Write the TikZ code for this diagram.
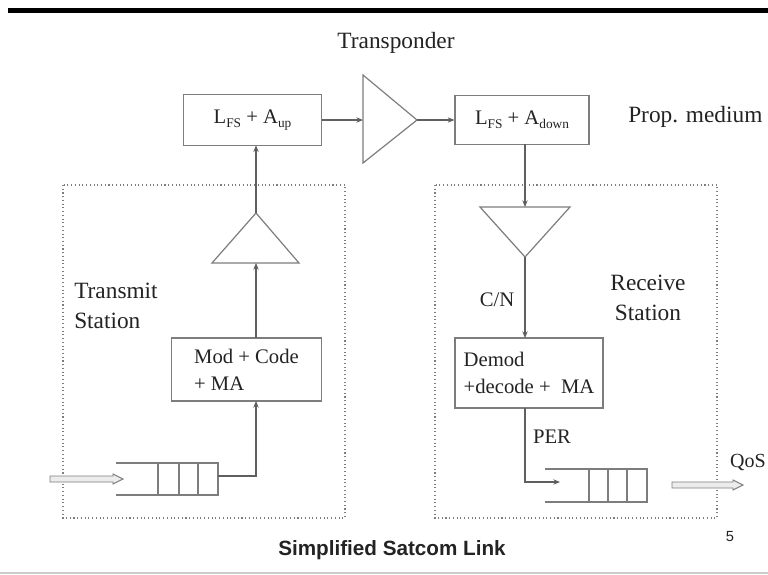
\documentclass[tikz,border=0pt]{standalone}
\usepackage{fontspec}
\setmainfont{Liberation Serif}
\newfontfamily\arialfont{Liberation Sans}
\usetikzlibrary{arrows.meta,calc}
\definecolor{lc}{RGB}{95,95,95}
\definecolor{bc}{RGB}{125,125,125}
\definecolor{tc}{RGB}{35,35,35}
\newcommand{\sbs}[1]{\raisebox{-0.45ex}{\fontsize{10}{10}\selectfont #1}}
\begin{document}
\begin{tikzpicture}[x=0.75pt,y=-0.75pt,
  blk/.style={draw=bc,line width=0.9pt,text=tc,inner sep=0pt},
  lbl/.style={text=tc,font=\fontsize{17.5}{22}\selectfont,inner sep=0pt},
  btxt/.style={font=\fontsize{15.5}{20}\selectfont},
  conn/.style={draw=lc,line width=0.8pt,-{Stealth[length=5pt,width=4pt]}},
  plain/.style={draw=lc,line width=0.8pt},
  amp/.style={draw=bc,line width=0.9pt},
  dotbox/.style={draw=bc,line width=0.8pt,dotted},
  queue/.style={draw=bc,line width=0.9pt},
  fat/.style={draw=bc,fill=gray!15,line width=0.7pt}]
\useasboundingbox (0,0) rectangle (768,575);
\fill[white] (0,0) rectangle (768,575);
% top bar and bottom line
\fill[black] (8,8) rectangle (768,13);
\draw[gray!40,line width=1pt] (0,573) -- (768,573);

% dotted station boxes
\draw[dotbox] (63,185) rectangle (345,518);
\draw[dotbox] (435,185) rectangle (717,518);

% titles
\node[lbl] (tp) at (396,43) {Transponder};
\node[lbl,anchor=west] (pm) at (628,117) {Prop. medium};
\node[lbl,anchor=north west,align=left] (ts) at (74,283) {Transmit\\Station};
\node[lbl,align=center] (rs) at (648,298) {Receive\\Station};
\node[lbl,font=\fontsize{15.5}{20}\selectfont] (cn) at (497,300) {C/N};
\node[lbl,font=\fontsize{15.5}{20}\selectfont] (per) at (552,437) {PER};
\node[lbl,font=\fontsize{15}{20}\selectfont,anchor=east] (qos) at (766,462) {QoS};
\node[text=tc,font=\arialfont\bfseries\fontsize{15.5}{18}\selectfont] (title) at (392,550) {Simplified Satcom Link};
\node[text=tc,font=\arialfont\fontsize{11}{12}\selectfont] (pg) at (730,537) {5};

% loss boxes
\node[blk,btxt,minimum width=104pt,minimum height=38pt] (up) at (252.5,120) {L\sbs{FS} + A\sbs{up}};
\node[blk,btxt,minimum width=100.5pt,minimum height=37pt] (down) at (522,120) {L\sbs{FS} + A\sbs{down}};

% transponder amplifier
\coordinate (tA) at (363,75);
\coordinate (tB) at (363,163);
\coordinate (tC) at (417,120);
\coordinate (tIn) at (363,120);
\draw[amp] (tA) -- (tB) -- (tC) -- cycle;
\draw[conn] (up.east) -- (tIn);
\draw[conn] (tC) -- (down.west);

% transmit side
\node[blk,btxt,minimum width=112pt,minimum height=47.25pt,align=left] (mod) at (246.5,369.5) {Mod + Code\\+ MA};
\coordinate (lApex) at (256,213);
\coordinate (lB1) at (212,263);
\coordinate (lB2) at (299,263);
\coordinate (lBase) at (256,263);
\draw[amp] (lApex) -- (lB1) -- (lB2) -- cycle;
\coordinate (upIn) at (256,145.3);
\coordinate (modTop) at (256,338);
\coordinate (modBot) at (256,401);
\draw[conn] (lApex) -- (upIn);
\draw[conn] (modTop) -- (lBase);

% left queue
\draw[queue] (116,463) -- (218,463) -- (218,495) -- (116,495);
\draw[queue] (158,463) -- (158,495) (179,463) -- (179,495) (198,463) -- (198,495);
\coordinate (qLout) at (218,476);
\draw[conn] (qLout) -| (modBot);
% input arrow
\coordinate (inA) at (50,479);
\draw[fat] ($(inA)+(0,-3)$) -- ++(63,0) -- ++(0,-2) -- ++(10,5) -- ++(-10,5) -- ++(0,-2) -- ++(-63,0) -- cycle;

% receive side
\coordinate (rA) at (480,207);
\coordinate (rB) at (570,207);
\coordinate (rApex) at (525,257);
\coordinate (rTop) at (525,207);
\draw[amp] (rA) -- (rB) -- (rApex) -- cycle;
\node[blk,btxt,minimum width=111pt,minimum height=52.5pt,align=left] (demod) at (529,373) {Demod\\+decode +\ \ MA};
\coordinate (downOut) at (525,143.5);
\coordinate (dTop) at (525,338);
\coordinate (dBot) at (525,408);
\coordinate (qRin) at (560,482);
\draw[conn] (downOut) -- (rTop);
\draw[conn] (rApex) -- (dTop);
\draw[conn] (dBot) |- (qRin);

% right queue
\draw[queue] (545,469) -- (647,469) -- (647,502) -- (545,502);
\draw[queue] (589,469) -- (589,502) (608,469) -- (608,502) (627,469) -- (627,502);
% output arrow
\coordinate (outA) at (672,485);
\draw[fat] ($(outA)+(0,-3)$) -- ++(61,0) -- ++(0,-2) -- ++(10,5) -- ++(-10,5) -- ++(0,-2) -- ++(-61,0) -- cycle;
\end{tikzpicture}
\end{document}
